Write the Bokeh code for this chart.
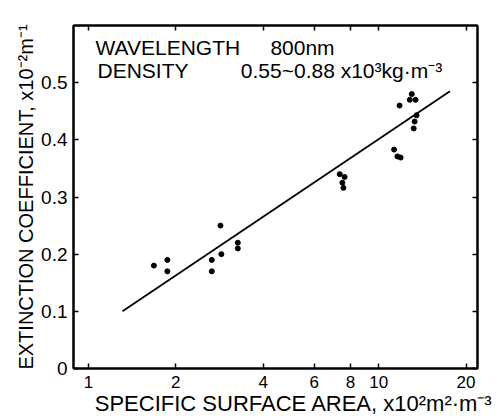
from bokeh.plotting import figure
from bokeh.models import Range1d, LogAxis, LinearAxis, FixedTicker, CustomJSTickFormatter, Label
from bokeh.embed import file_html
from bokeh.resources import INLINE

# ---- data ----
surface_area = [1.68, 1.87, 1.87, 2.66, 2.66, 2.85, 2.87, 3.27, 3.27,
                7.34, 7.63, 7.50, 7.56,
                11.3, 11.6, 11.9, 11.8,
                13.0, 12.8, 13.4, 13.5, 13.3, 13.2]
extinction = [0.18, 0.19, 0.17, 0.19, 0.17, 0.25, 0.20, 0.22, 0.21,
              0.34, 0.335, 0.325, 0.316,
              0.383, 0.371, 0.369, 0.46,
              0.48, 0.47, 0.47, 0.443, 0.432, 0.42]
fit_x = [1.31, 17.6]
fit_y = [0.10, 0.485]

x_ticks = [1, 2, 4, 6, 8, 10, 20]
x_tick_labels = ["1", "2", "4", "6", "8", "10", "20"]
y_ticks = [0, 0.1, 0.2, 0.3, 0.4, 0.5]
y_tick_labels = ["0", "0.1", "0.2", "0.3", "0.4", "0.5"]

x_title = "SPECIFIC SURFACE AREA, x10²m²·m⁻³"
y_title = "EXTINCTION COEFFICIENT, x10⁻²m⁻¹"
note1_a, note1_b = "WAVELENGTH", "800nm"
note2_a, note2_b = "DENSITY", "0.55~0.88 x10³kg·m⁻³"

FONT = "Liberation Sans"

p = figure(width=499, height=419, x_axis_type="log",
           x_range=Range1d(0.888, 21.9), y_range=Range1d(0, 0.6),
           output_backend="svg", toolbar_location=None,
           min_border_left=73, min_border_right=22,
           min_border_top=25, min_border_bottom=51)
p.xgrid.visible = False
p.ygrid.visible = False
p.outline_line_color = "black"
p.outline_line_width = 2
p.background_fill_color = "white"
p.border_fill_color = "white"

def style(ax, ticks):
    ax.ticker = FixedTicker(ticks=ticks, minor_ticks=[])
    ax.axis_line_color = "black"
    ax.axis_line_width = 2
    ax.major_tick_line_color = "black"
    ax.major_tick_line_width = 1.5
    ax.major_tick_in = 5
    ax.major_tick_out = 0
    ax.minor_tick_line_color = None
    ax.major_label_text_font = FONT
    ax.major_label_text_color = "black"

xa = p.xaxis[0]
style(xa, x_ticks)
xa.major_label_overrides = dict(zip(x_ticks, x_tick_labels))
xa.major_label_text_font_size = "17px"
xa.major_label_standoff = 7
# leading no-break spaces shift the centred title right, as in the reference
xa.axis_label = "\u00a0" * 6 + x_title
xa.axis_label_text_font = FONT
xa.axis_label_text_font_size = "22px"
xa.axis_label_text_font_style = "normal"
xa.axis_label_text_color = "black"
xa.axis_label_standoff = 0

ya = p.yaxis[0]
style(ya, y_ticks)
ya.major_label_overrides = dict(zip(y_ticks, y_tick_labels))
ya.major_label_text_font_size = "19px"
ya.major_label_standoff = 6
ya.axis_label = y_title
ya.axis_label_text_font = FONT
ya.axis_label_text_font_size = "20px"
ya.axis_label_text_font_style = "normal"
ya.axis_label_text_color = "black"
ya.axis_label_standoff = 1

blank = CustomJSTickFormatter(code="return ''")
top = LogAxis(formatter=blank)
style(top, x_ticks)
top.major_label_text_font_size = "1px"
top.major_label_standoff = 0
p.add_layout(top, "above")

right = LinearAxis(formatter=blank)
style(right, y_ticks)
right.major_label_text_font_size = "1px"
right.major_label_standoff = 0
p.add_layout(right, "right")

p.line(fit_x, fit_y, line_color="black", line_width=1.8)
p.scatter(surface_area, extinction, size=5, fill_color="black", line_color="black")

def lab(text, x, y, size, align="left"):
    p.add_layout(Label(x=x, y=y, x_units="screen", y_units="screen", text=text,
                       text_font=FONT, text_font_size=size, text_color="black",
                       text_align=align, text_baseline="alphabetic"))

lab(note1_a, 22, 321, "21px")
lab(note1_b, 229, 321, "21px", "center")
lab(note2_a, 24, 298, "21px")
lab(note2_b, 268, 298, "21px", "center")

open("out.html", "w").write(file_html(p, INLINE))
